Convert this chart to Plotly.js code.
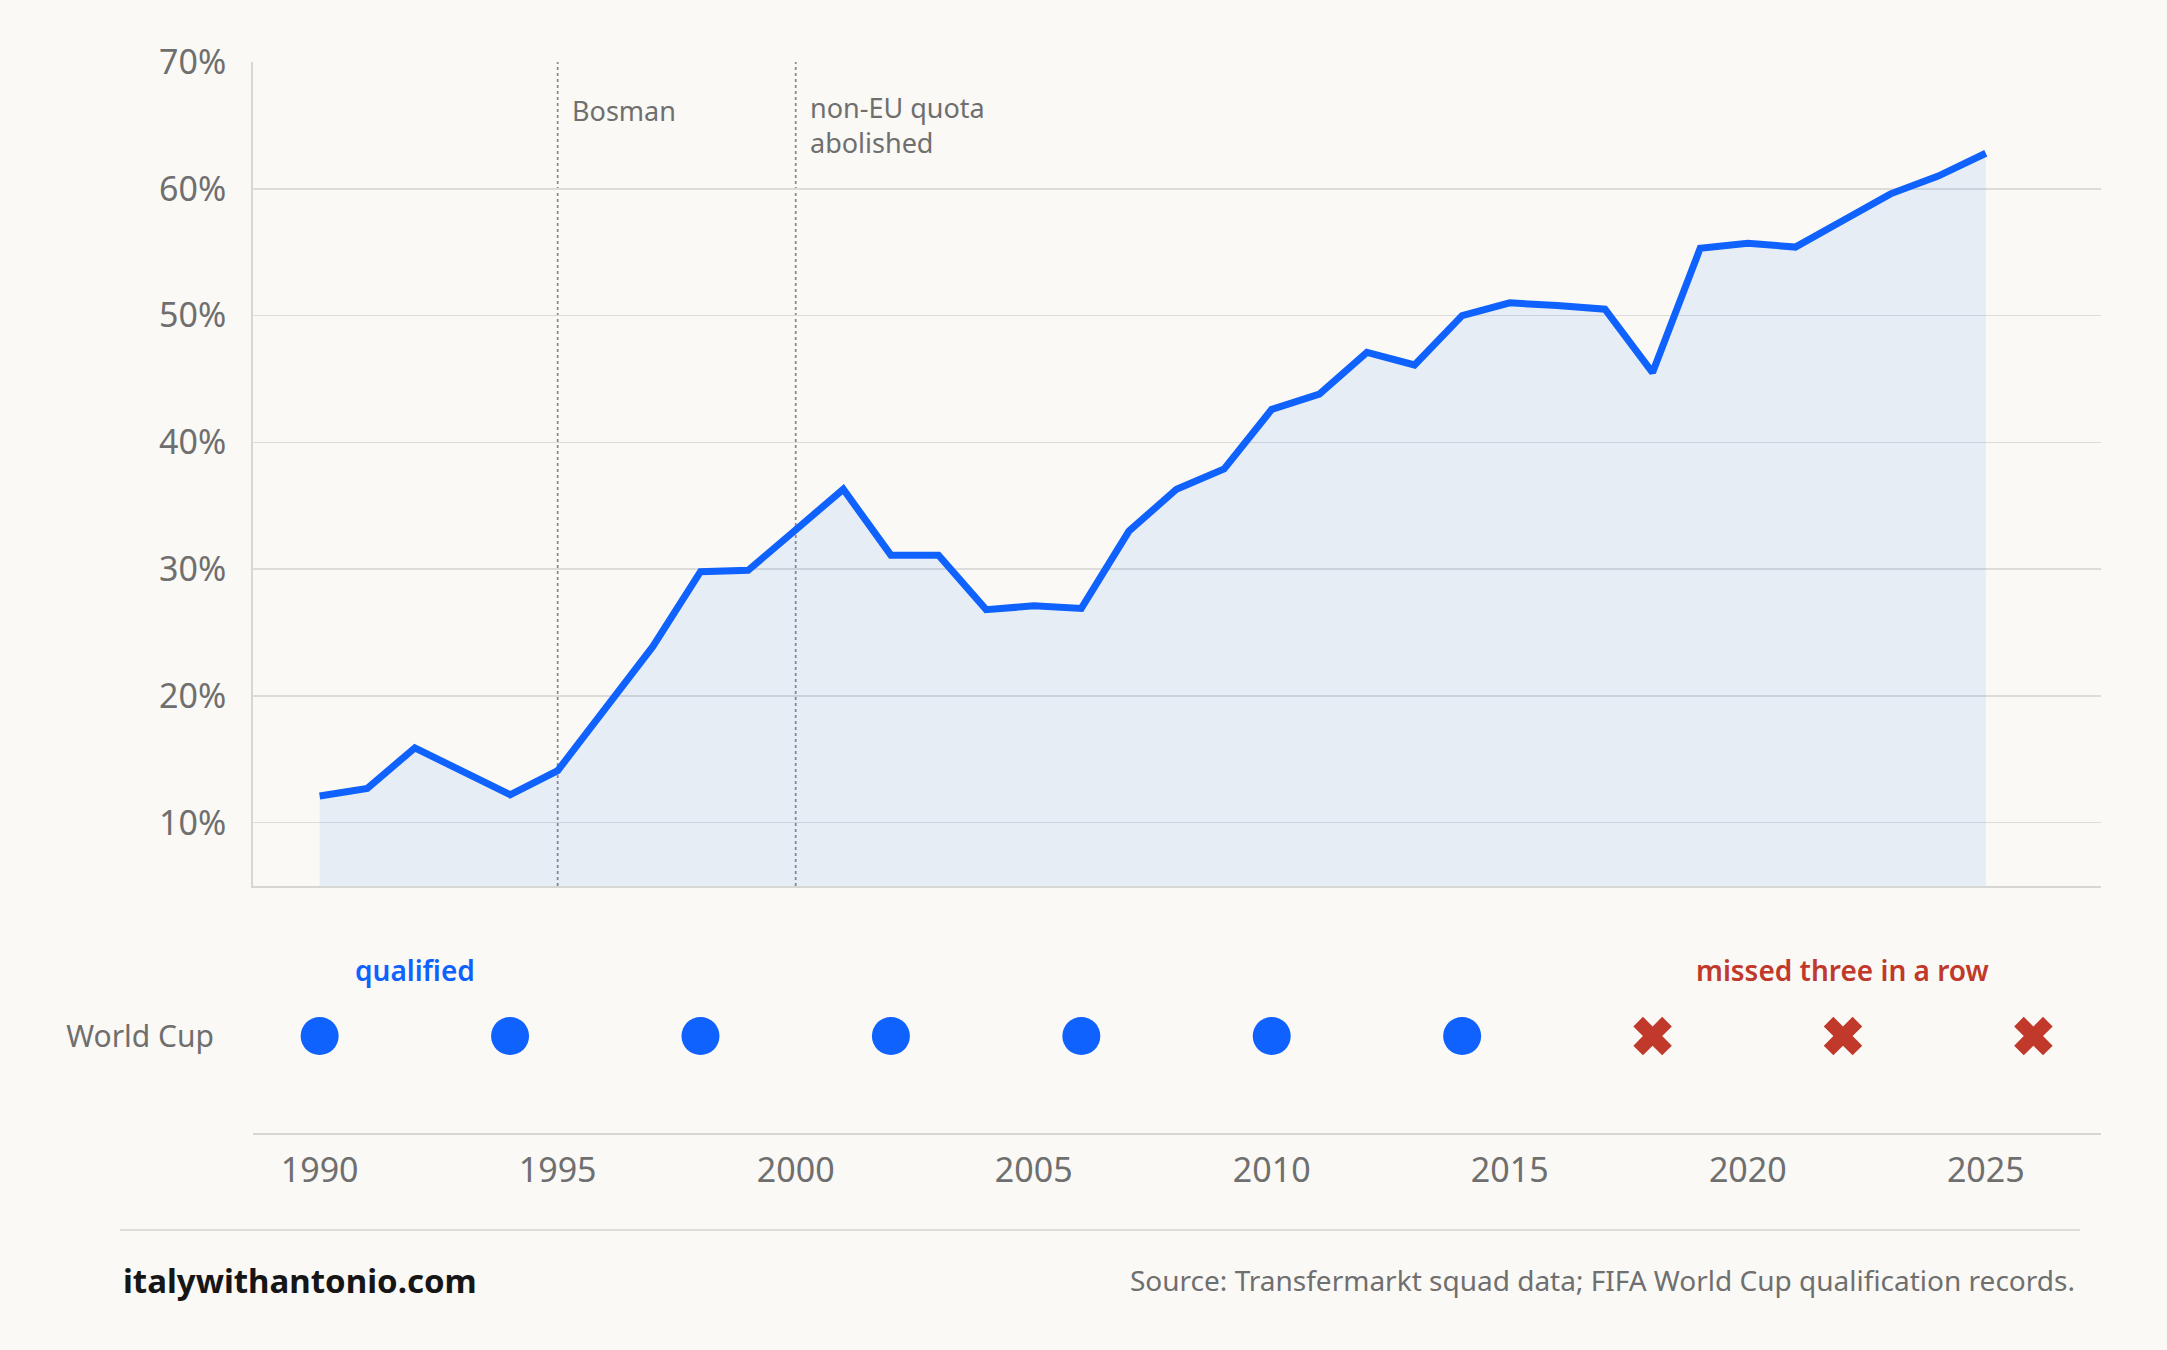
<!DOCTYPE html>
<html>
<head>
<meta charset="utf-8">
<script src="https://cdn.plot.ly/plotly-3.0.1.min.js"></script>
<style>
html,body{margin:0;padding:0;background:#faf9f5;}
#chart{width:2167px;height:1350px;}
</style>
</head>
<body>
<div id="chart"></div>
<script>
// Share of foreign players (%) by season year
const years = [1990,1991,1992,1993,1994,1995,1996,1997,1998,1999,2000,2001,2002,2003,2004,2005,2006,2007,2008,2009,2010,2011,2012,2013,2014,2015,2016,2017,2018,2019,2020,2021,2022,2023,2024,2025];
const foreignShare = [12.1,12.7,15.9,14.0,12.2,14.1,19.0,23.9,29.8,29.9,33.1,36.3,31.1,31.1,26.8,27.1,26.9,33.0,36.3,37.9,42.6,43.8,47.1,46.1,50.0,51.0,50.8,50.5,45.5,55.3,55.7,55.4,57.5,59.6,61.0,62.8];

// World Cup participation
const qualifiedYears = [1990,1994,1998,2002,2006,2010,2014];
const missedYears = [2018,2022,2026];

// Events
const eventYears = [1995,2000];
const eventLabels = ['Bosman','non-EU quota<br>abolished'];

const yTicks = [10,20,30,40,50,60,70];
const yTickText = ['10%','20%','30%','40%','50%','60%','70%'];
const xTicks = [1990,1995,2000,2005,2010,2015,2020,2025];

const FONT = 'Noto Sans, Roboto, sans-serif';
const GRAY = '#6f6f6f';
const BLUE = '#0f62fe';
const RED = '#c0392b';
const XR = [1988.6, 2027.42];

const traces = [
  {
    x: years, y: foreignShare, type: 'scatter', mode: 'lines',
    line: {color: BLUE, width: 7},
    fill: 'tozeroy', fillcolor: 'rgba(15,98,254,0.08)',
    xaxis: 'x', yaxis: 'y', hoverinfo: 'skip'
  },
  {
    x: qualifiedYears, y: qualifiedYears.map(() => 0.5), type: 'scatter', mode: 'markers',
    marker: {symbol: 'circle', size: 38, color: BLUE},
    xaxis: 'x2', yaxis: 'y2', hoverinfo: 'skip'
  },
  {
    x: missedYears, y: missedYears.map(() => 0.5), type: 'scatter', mode: 'markers',
    marker: {symbol: 'x', size: 34, color: RED},
    xaxis: 'x2', yaxis: 'y2', hoverinfo: 'skip'
  }
];

const shapes = eventYears.map(yr => ({
  type: 'line', xref: 'x', yref: 'y domain', x0: yr, x1: yr, y0: 0, y1: 1,
  line: {color: '#8d8d8d', width: 1.8, dash: 'dot'}, layer: 'below'
}));
shapes.push({
  type: 'line', xref: 'paper', yref: 'paper', x0: -0.072, x1: 0.9886, y0: -0.0906, y1: -0.0906,
  line: {color: '#dcdcd8', width: 2}
});

const annotations = eventYears.map((yr, i) => {
  const multi = eventLabels[i].indexOf('<br>') >= 0;
  return {
    x: yr, y: multi ? 68.03 : 67.83, xref: 'x', yref: 'y', text: eventLabels[i],
    xanchor: 'left', yanchor: 'top', align: 'left', xshift: 12, showarrow: false,
    font: {family: FONT, size: 27, color: GRAY}
  };
});
annotations.push(
  {x: 1992, y: 0.84, xref: 'x2', yref: 'y2', text: 'qualified', showarrow: false,
   font: {family: FONT, size: 28, color: BLUE, weight: 600}},
  {x: 2022, y: 0.84, xref: 'x2', yref: 'y2', text: 'missed three in a row', showarrow: false,
   font: {family: FONT, size: 28, color: RED, weight: 600}},
  {x: -0.0714, y: -0.1373, xref: 'paper', yref: 'paper', xanchor: 'left', yanchor: 'middle',
   text: 'italywithantonio.com', showarrow: false,
   font: {family: FONT, size: 33, color: '#161616', weight: 700}},
  {x: 0.987, y: -0.1373, xref: 'paper', yref: 'paper', xanchor: 'right', yanchor: 'middle',
   text: 'Source: Transfermarkt squad data; FIFA World Cup qualification records.', showarrow: false,
   font: {family: FONT, size: 28, color: GRAY}}
);

const layout = {
  width: 2167, height: 1350,
  paper_bgcolor: '#faf9f5', plot_bgcolor: '#faf9f5',
  margin: {l: 253, r: 66, t: 62, b: 217},
  showlegend: false,
  font: {family: FONT, color: GRAY},
  xaxis: {
    range: XR, domain: [0, 1], anchor: 'y', showticklabels: false, showgrid: false,
    zeroline: false, showline: true, linecolor: '#d6d6d2', linewidth: 2, fixedrange: true
  },
  yaxis: {
    range: [5, 70], domain: [0.2306, 1], anchor: 'x', tickmode: 'array', tickvals: yTicks, ticktext: yTickText,
    showgrid: true, gridcolor: '#dcdcda', gridwidth: 1.5, zeroline: false,
    showline: true, linecolor: '#d6d6d2', linewidth: 2,
    tickfont: {family: FONT, size: 34, color: GRAY}, ticklabelstandoff: 18, fixedrange: true
  },
  xaxis2: {
    range: XR, domain: [0, 1], anchor: 'y2', tickvals: xTicks, showgrid: false,
    zeroline: false, showline: true, linecolor: '#d6d6d2', linewidth: 2,
    tickfont: {family: FONT, size: 34, color: GRAY}, ticklabelstandoff: 6, fixedrange: true
  },
  yaxis2: {
    range: [0, 1], domain: [0, 0.1811], anchor: 'x2', tickvals: [0.5], ticktext: ['World Cup'],
    showgrid: false, zeroline: false, showline: false,
    tickfont: {family: FONT, size: 30, color: GRAY}, ticklabelstandoff: 38, fixedrange: true
  },
  shapes: shapes,
  annotations: annotations
};

Plotly.newPlot('chart', traces, layout, {displayModeBar: false, staticPlot: true});
</script>
</body>
</html>
